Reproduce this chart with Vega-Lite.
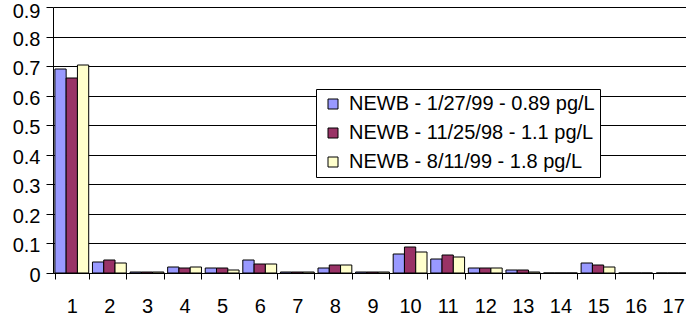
{
  "$schema": "https://vega.github.io/schema/vega-lite/v6.json",
  "autosize": "none",
  "padding": {"left": 53, "top": 7, "right": 0, "bottom": 47},
  "width": 639,
  "height": 266,
  "background": "white",
  "config": {
    "view": {"stroke": null},
    "font": "Liberation Sans",
    "axis": {"labelFont": "Liberation Sans", "labelFontSize": 20, "labelColor": "black", "domainColor": "black", "tickColor": "black", "gridColor": "black", "gridOpacity": 1, "domainWidth": 1, "tickWidth": 1, "gridWidth": 1},
    "legend": {"labelFont": "Liberation Sans", "labelFontSize": 20, "labelColor": "black"}
  },
  "data": {"values": [
    {"cat": 1, "series": "NEWB - 1/27/99 - 0.89 pg/L", "value": 0.689},
    {"cat": 1, "series": "NEWB - 11/25/98 - 1.1 pg/L", "value": 0.661},
    {"cat": 1, "series": "NEWB - 8/11/99 - 1.8 pg/L", "value": 0.704},
    {"cat": 2, "series": "NEWB - 1/27/99 - 0.89 pg/L", "value": 0.038},
    {"cat": 2, "series": "NEWB - 11/25/98 - 1.1 pg/L", "value": 0.045},
    {"cat": 2, "series": "NEWB - 8/11/99 - 1.8 pg/L", "value": 0.033},
    {"cat": 3, "series": "NEWB - 1/27/99 - 0.89 pg/L", "value": 0.005},
    {"cat": 3, "series": "NEWB - 11/25/98 - 1.1 pg/L", "value": 0.005},
    {"cat": 3, "series": "NEWB - 8/11/99 - 1.8 pg/L", "value": 0.005},
    {"cat": 4, "series": "NEWB - 1/27/99 - 0.89 pg/L", "value": 0.021},
    {"cat": 4, "series": "NEWB - 11/25/98 - 1.1 pg/L", "value": 0.016},
    {"cat": 4, "series": "NEWB - 8/11/99 - 1.8 pg/L", "value": 0.021},
    {"cat": 5, "series": "NEWB - 1/27/99 - 0.89 pg/L", "value": 0.016},
    {"cat": 5, "series": "NEWB - 11/25/98 - 1.1 pg/L", "value": 0.016},
    {"cat": 5, "series": "NEWB - 8/11/99 - 1.8 pg/L", "value": 0.011},
    {"cat": 6, "series": "NEWB - 1/27/99 - 0.89 pg/L", "value": 0.044},
    {"cat": 6, "series": "NEWB - 11/25/98 - 1.1 pg/L", "value": 0.032},
    {"cat": 6, "series": "NEWB - 8/11/99 - 1.8 pg/L", "value": 0.032},
    {"cat": 7, "series": "NEWB - 1/27/99 - 0.89 pg/L", "value": 0.004},
    {"cat": 7, "series": "NEWB - 11/25/98 - 1.1 pg/L", "value": 0.004},
    {"cat": 7, "series": "NEWB - 8/11/99 - 1.8 pg/L", "value": 0.004},
    {"cat": 8, "series": "NEWB - 1/27/99 - 0.89 pg/L", "value": 0.016},
    {"cat": 8, "series": "NEWB - 11/25/98 - 1.1 pg/L", "value": 0.027},
    {"cat": 8, "series": "NEWB - 8/11/99 - 1.8 pg/L", "value": 0.027},
    {"cat": 9, "series": "NEWB - 1/27/99 - 0.89 pg/L", "value": 0.004},
    {"cat": 9, "series": "NEWB - 11/25/98 - 1.1 pg/L", "value": 0.004},
    {"cat": 9, "series": "NEWB - 8/11/99 - 1.8 pg/L", "value": 0.004},
    {"cat": 10, "series": "NEWB - 1/27/99 - 0.89 pg/L", "value": 0.065},
    {"cat": 10, "series": "NEWB - 11/25/98 - 1.1 pg/L", "value": 0.087},
    {"cat": 10, "series": "NEWB - 8/11/99 - 1.8 pg/L", "value": 0.071},
    {"cat": 11, "series": "NEWB - 1/27/99 - 0.89 pg/L", "value": 0.048},
    {"cat": 11, "series": "NEWB - 11/25/98 - 1.1 pg/L", "value": 0.06},
    {"cat": 11, "series": "NEWB - 8/11/99 - 1.8 pg/L", "value": 0.054},
    {"cat": 12, "series": "NEWB - 1/27/99 - 0.89 pg/L", "value": 0.016},
    {"cat": 12, "series": "NEWB - 11/25/98 - 1.1 pg/L", "value": 0.016},
    {"cat": 12, "series": "NEWB - 8/11/99 - 1.8 pg/L", "value": 0.016},
    {"cat": 13, "series": "NEWB - 1/27/99 - 0.89 pg/L", "value": 0.011},
    {"cat": 13, "series": "NEWB - 11/25/98 - 1.1 pg/L", "value": 0.011},
    {"cat": 13, "series": "NEWB - 8/11/99 - 1.8 pg/L", "value": 0.004},
    {"cat": 14, "series": "NEWB - 1/27/99 - 0.89 pg/L", "value": 0},
    {"cat": 14, "series": "NEWB - 11/25/98 - 1.1 pg/L", "value": 0},
    {"cat": 14, "series": "NEWB - 8/11/99 - 1.8 pg/L", "value": 0},
    {"cat": 15, "series": "NEWB - 1/27/99 - 0.89 pg/L", "value": 0.034},
    {"cat": 15, "series": "NEWB - 11/25/98 - 1.1 pg/L", "value": 0.027},
    {"cat": 15, "series": "NEWB - 8/11/99 - 1.8 pg/L", "value": 0.02},
    {"cat": 16, "series": "NEWB - 1/27/99 - 0.89 pg/L", "value": 0},
    {"cat": 16, "series": "NEWB - 11/25/98 - 1.1 pg/L", "value": 0},
    {"cat": 16, "series": "NEWB - 8/11/99 - 1.8 pg/L", "value": 0},
    {"cat": 17, "series": "NEWB - 1/27/99 - 0.89 pg/L", "value": 0},
    {"cat": 17, "series": "NEWB - 11/25/98 - 1.1 pg/L", "value": 0},
    {"cat": 17, "series": "NEWB - 8/11/99 - 1.8 pg/L", "value": 0}
  ]},
  "mark": {"type": "bar", "stroke": "black", "strokeWidth": 1},
  "encoding": {
    "x": {
      "field": "cat", "type": "ordinal", "sort": "ascending",
      "scale": {"paddingInner": 0.1, "paddingOuter": 0.05},
      "axis": {"title": null, "labelAngle": 0, "tickBand": "extent", "tickSize": 6, "labelPadding": 17, "grid": false}
    },
    "xOffset": {
      "field": "series", "type": "nominal",
      "sort": ["NEWB - 1/27/99 - 0.89 pg/L", "NEWB - 11/25/98 - 1.1 pg/L", "NEWB - 8/11/99 - 1.8 pg/L"],
      "scale": {"paddingInner": 0, "paddingOuter": 0}
    },
    "y": {
      "field": "value", "type": "quantitative",
      "scale": {"domain": [0, 0.9], "nice": false, "round": true},
      "axis": {"title": null, "values": [0, 0.1, 0.2, 0.3, 0.4, 0.5, 0.6, 0.7, 0.8, 0.9], "format": ".1~f", "grid": true, "gridColor": "#000000", "gridOpacity": 1, "tickSize": 7, "labelPadding": 6,
        "labelOffset": {"condition": {"test": "datum.value >= 0.85", "value": 4.5}, "value": 2.5}}
    },
    "color": {
      "field": "series", "type": "nominal",
      "sort": ["NEWB - 1/27/99 - 0.89 pg/L", "NEWB - 11/25/98 - 1.1 pg/L", "NEWB - 8/11/99 - 1.8 pg/L"],
      "scale": {"domain": ["NEWB - 1/27/99 - 0.89 pg/L", "NEWB - 11/25/98 - 1.1 pg/L", "NEWB - 8/11/99 - 1.8 pg/L"], "range": ["#9999FF", "#993366", "#FFFFCC"]},
      "legend": {
        "title": null, "orient": "none", "legendX": 263, "legendY": 82,
        "strokeColor": "black", "fillColor": "white", "padding": 5,
        "symbolType": "square", "symbolSize": 100, "symbolStrokeColor": "black", "symbolStrokeWidth": 1,
        "symbolOffset": 2, "labelOffset": 6, "rowPadding": 9, "labelFontSize": 20, "labelLimit": 0
      }
    }
  }
}
